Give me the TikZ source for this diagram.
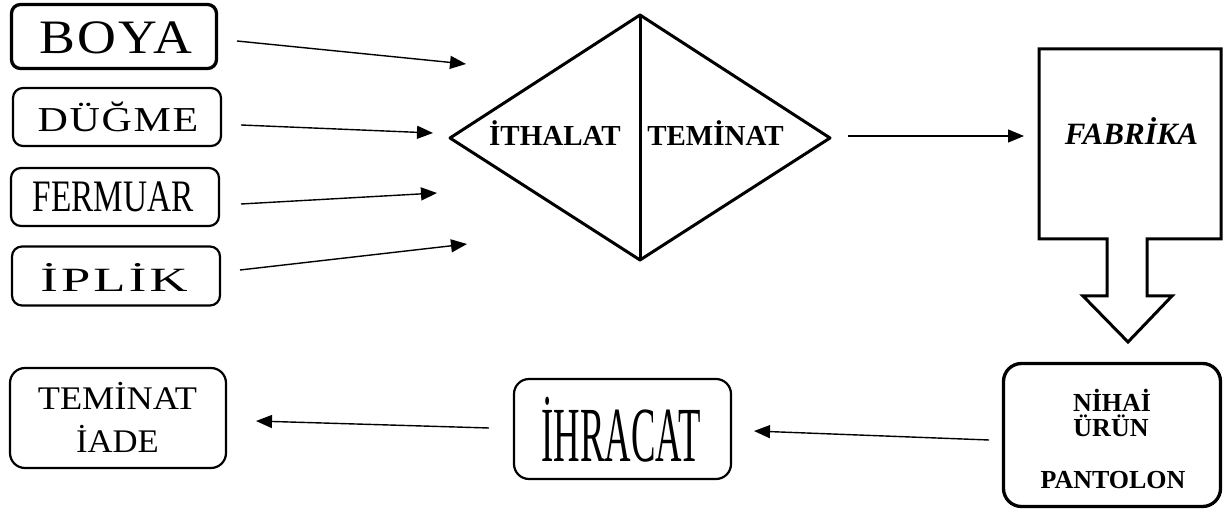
\documentclass[tikz,border=0pt]{standalone}
\usepackage{fontspec}
\setmainfont{Liberation Serif}
\usetikzlibrary{arrows.meta}

\newcommand{\fsz}[1]{\fontsize{#1}{#1}\selectfont}

\tikzset{
  box/.style={draw, line width=2.2pt, rounded corners=12pt, inner sep=0pt},
  heavybox/.style={box, line width=3.3pt},
  txt/.style={anchor=base, inner sep=0pt},
  heavy/.style={line width=3pt, line join=round},
  flow/.style={line width=1.4pt, -{Triangle[length=16pt,width=13pt]}},
}

\begin{document}
\begin{tikzpicture}[x=1pt, y=-1pt]
\useasboundingbox (0,0) rectangle (1224,510);

% imported inputs
\node[heavybox, rounded corners=9pt, minimum width=205pt, minimum height=64pt] (boya) at (114,36.5) {};
\node[txt] (boyat) at (116,54) {\fsz{48}\scalebox{1.12}[1]{\addfontfeatures{LetterSpace=4}BOYA}};

\node[box, rounded corners=10pt, minimum width=208pt, minimum height=58pt] (dugme) at (117,117) {};
\node[txt] (dugmet) at (118,132) {\fsz{35}\scalebox{1.2}[1]{\addfontfeatures{LetterSpace=4}DÜĞME}};

\node[box, rounded corners=10pt, minimum width=208pt, minimum height=58pt] (fermuar) at (115,197) {};
\node[txt] (fermuart) at (113,212) {\fsz{45}\scalebox{0.74}[1]{FERMUAR}};

\node[box, rounded corners=10pt, minimum width=208pt, minimum height=59pt] (iplik) at (116,276) {};
\node[txt] (iplikt) at (114,292) {\fsz{34}\scalebox{1.55}[1]{\addfontfeatures{LetterSpace=6}İPLİK}};

% import / guarantee diamond
\coordinate (dl) at (450,138);
\coordinate (dt) at (640,15);
\coordinate (dr) at (830,138);
\coordinate (db) at (640,260);
\draw[heavy] (dl) -- (dt) -- (dr) -- (db) -- cycle;
\draw[heavy] (dt) -- (db);
\node[txt] (ithalat) at (555,146) {\fsz{29}\bfseries İTHALAT};
\node[txt] (teminat) at (715.5,146) {\fsz{29}\bfseries TEMİNAT};

% factory with downward block arrow
\draw[heavy, line join=miter] (1039,49) -- (1221,49) -- (1221,239) -- (1147,239) -- (1147,296)
  -- (1172,296) -- (1128,342) -- (1083,296) -- (1107,296) -- (1107,239) -- (1039,239) -- cycle;
\node[txt] (fabrika) at (1131.5,145) {\fsz{31}\bfseries\itshape FABRİKA};

% final product
\node[heavybox, rounded corners=18pt, minimum width=217pt, minimum height=143pt] (urun) at (1112,435) {};
\node[txt] (nihai) at (1112,412) {\fsz{26}\bfseries NİHAİ};
\node[txt] (urunt) at (1111,437) {\fsz{26}\bfseries ÜRÜN};
\node[txt] (pantolon) at (1113,488) {\fsz{26}\bfseries PANTOLON};

% export
\node[box, rounded corners=15pt, minimum width=217pt, minimum height=100pt] (ihracat) at (622.5,429) {};
\node[txt] (ihracatt) at (621,462) {\fsz{78}\scalebox{0.47}[1]{İHRACAT}};

% guarantee refund
\node[box, rounded corners=15pt, minimum width=216pt, minimum height=100pt] (iade) at (118,418) {};
\node[txt] (iade1) at (117.5,410) {\fsz{33}\scalebox{1.1}[1]{TEMİNAT}};
\node[txt] (iade2) at (117.5,453) {\fsz{33}\scalebox{1.05}[1]{İADE}};

% arrow end points
\coordinate (a1s) at (237,41);   \coordinate (a1e) at (466,64);
\coordinate (a2s) at (241,125);  \coordinate (a2e) at (433,133);
\coordinate (a3s) at (241,204);  \coordinate (a3e) at (437,193);
\coordinate (a4s) at (240,270);  \coordinate (a4e) at (467,244);
\coordinate (a5s) at (848,136);  \coordinate (a5e) at (1024,136);
\coordinate (a6s) at (989,440);  \coordinate (a6e) at (754,431);
\coordinate (a7s) at (489,428);  \coordinate (a7e) at (256,421);

\draw[flow] (a1s) -- (a1e);
\draw[flow] (a2s) -- (a2e);
\draw[flow] (a3s) -- (a3e);
\draw[flow] (a4s) -- (a4e);
\draw[flow] (a5s) -- (a5e);
\draw[flow] (a6s) -- (a6e);
\draw[flow] (a7s) -- (a7e);
\end{tikzpicture}
\end{document}
